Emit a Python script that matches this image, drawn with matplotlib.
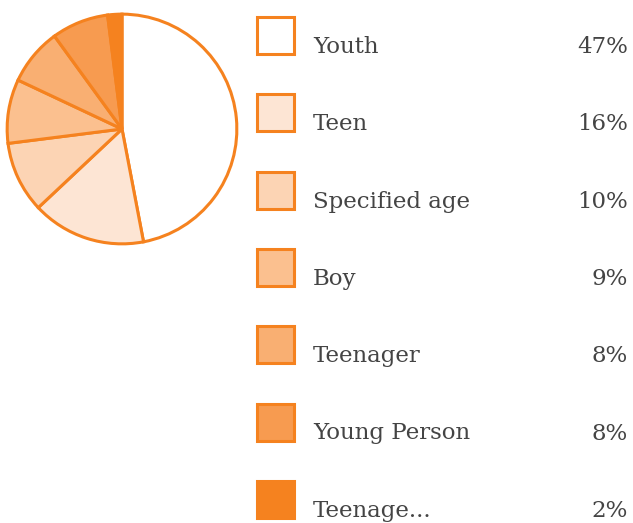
import matplotlib.pyplot as plt
from matplotlib.patches import Rectangle

labels = ["Youth", "Teen", "Specified age", "Boy", "Teenager", "Young Person", "Teenage..."]
values = [47, 16, 10, 9, 8, 8, 2]
pct_labels = ["47%", "16%", "10%", "9%", "8%", "8%", "2%"]
colors = ["#ffffff", "#fde5d4", "#fcd4b4", "#fbc08f", "#f9af72", "#f79b50", "#f5821f"]
edge = "#f5821f"

W, H = 633, 523
fig = plt.figure(figsize=(W / 100, H / 100), dpi=100)

# pie
cx, cy, r = 122, 129, 116
ax = fig.add_axes([(cx - r) / W, (H - cy - r) / H, 2 * r / W, 2 * r / H])
ax.pie(values, colors=colors, startangle=90, counterclock=False,
       wedgeprops=dict(edgecolor=edge, linewidth=2.2), radius=1)
ax.set_xlim(-1.01, 1.01)
ax.set_ylim(-1.01, 1.01)
ax.set_aspect("equal")
ax.axis("off")

# legend drawn in pixel coords
lg = fig.add_axes([0, 0, 1, 1])
lg.set_xlim(0, W)
lg.set_ylim(H, 0)
lg.axis("off")
lg.patch.set_alpha(0)
for i, (lab, pct, c) in enumerate(zip(labels, pct_labels, colors)):
    top = 17 + i * 77.3
    lg.add_patch(Rectangle((257, top), 37, 37, facecolor=c, edgecolor=edge, linewidth=2.2))
    lg.text(313, top + 30, lab, fontsize=16.5, family="DejaVu Serif", color="#444444",
            va="center", ha="left")
    lg.text(628, top + 30, pct, fontsize=16.5, family="DejaVu Serif", color="#444444",
            va="center", ha="right")

fig.savefig("out.png", dpi=100)
